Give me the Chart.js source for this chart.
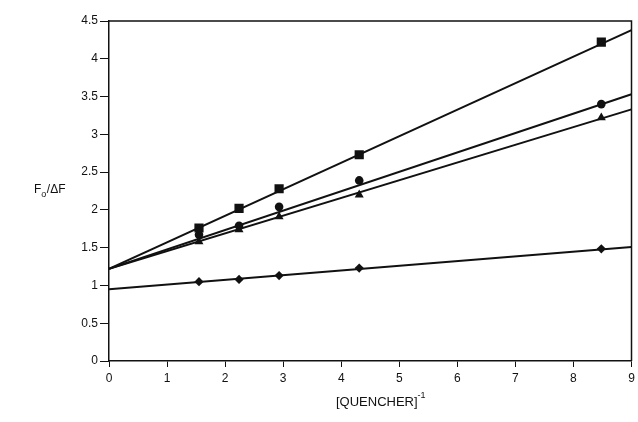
<!DOCTYPE html>
<html><head><meta charset="utf-8">
<script src="https://cdn.jsdelivr.net/npm/chart.js@4/dist/chart.umd.min.js"></script>
<style>html,body{margin:0;padding:0;background:#fff}</style>
</head><body>
<canvas id="c" width="638" height="422"></canvas>
<script>
// Data
const xValues = [1.55, 2.24, 2.93, 4.31, 8.48];
const squareValues = [1.76, 2.02, 2.28, 2.73, 4.22];
const circleValues = [1.67, 1.79, 2.04, 2.39, 3.40];
const triangleValues = [1.58, 1.74, 1.91, 2.20, 3.22];
const diamondValues = [1.05, 1.08, 1.13, 1.23, 1.485];
// fitted straight lines, end points read at x = 0 and x = 9
const fitX = [0, 9];
const squareFit = [1.22, 4.38];
const circleFit = [1.22, 3.53];
const triangleFit = [1.22, 3.33];
const diamondFit = [0.95, 1.51];
const xTickLabels = ['0','1','2','3','4','5','6','7','8','9'];
const yTickLabels = ['0','0.5','1','1.5','2','2.5','3','3.5','4','4.5'];

const INK = '#111';
const FONT = "'Liberation Sans', Arial, Helvetica, sans-serif";

function pts(xs, ys){ return xs.map((x,i)=>({x:x, y:ys[i]})); }
function markers(ys, style, r){
  return {data: pts(xValues, ys), showLine:false, pointStyle:style, pointRadius:r,
    pointHoverRadius:r, backgroundColor:INK, borderColor:INK, borderWidth:0};
}
function fit(ys){
  return {data: pts(fitX, ys), showLine:true, pointRadius:0, borderColor:INK,
    borderWidth:2, fill:false};
}

const framePlugin = {
  id:'frame',
  afterDraw(chart){
    const {ctx, chartArea:a} = chart;
    ctx.save();
    ctx.strokeStyle = INK; ctx.lineWidth = 1.5;
    ctx.beginPath();
    ctx.moveTo(a.left, a.top); ctx.lineTo(a.right, a.top); ctx.lineTo(a.right, a.bottom);
    ctx.stroke();
    ctx.fillStyle = INK;
    ctx.textBaseline = 'middle';
    // y title F_o/ΔF
    ctx.textAlign = 'left';
    ctx.font = '12px ' + FONT;
    let x = 34, y = 190;
    ctx.fillText('F', x, y); x += ctx.measureText('F').width;
    ctx.font = '9px ' + FONT;
    ctx.fillText('o', x, y + 5); x += ctx.measureText('o').width + 0.5;
    ctx.font = '12px ' + FONT;
    ctx.fillText('/\u0394F', x, y);
    // x title [QUENCHER]^-1
    ctx.font = '13px ' + FONT;
    x = 336; y = 402;
    ctx.fillText('[QUENCHER]', x, y); x += ctx.measureText('[QUENCHER]').width;
    ctx.font = '9px ' + FONT;
    ctx.fillText('-1', x, y - 6);
    ctx.restore();
  }
};

new Chart(document.getElementById('c'), {
  type:'scatter',
  data:{ datasets:[
    markers(squareValues, 'rect', 6.5),
    markers(circleValues, 'circle', 4.3),
    markers(triangleValues, 'triangle', 5.2),
    markers(diamondValues, 'rectRot', 4.6),
    fit(squareFit), fit(circleFit), fit(triangleFit), fit(diamondFit)
  ]},
  options:{
    responsive:false, animation:false, events:[],
    layout:{padding:{top:21, right:0, left:0, bottom:0}},
    plugins:{legend:{display:false}, tooltip:{enabled:false}},
    scales:{
      x:{type:'linear', min:0, max:9,
        afterFit(s){ s.height = 61; s.paddingLeft = 0; s.paddingRight = 0; },
        ticks:{stepSize:1, color:INK, font:{family:FONT, size:12}, padding:4,
          maxRotation:0, autoSkip:false,
          callback:(v)=>xTickLabels[Math.round(v)]},
        grid:{drawOnChartArea:false, drawTicks:true, tickLength:6, color:INK, lineWidth:1},
        border:{display:true, color:INK, width:1.5}
      },
      y:{type:'linear', min:0, max:4.5,
        afterFit(s){ s.width = 109; s.paddingTop = 0; s.paddingBottom = 0; },
        ticks:{stepSize:0.5, color:INK, font:{family:FONT, size:12}, padding:2,
          callback:(v)=>yTickLabels[Math.round(v*2)]},
        grid:{drawOnChartArea:false, drawTicks:true, tickLength:9, color:INK, lineWidth:1},
        border:{display:true, color:INK, width:1.5}
      }
    }
  },
  plugins:[framePlugin]
});
</script>
</body></html>
